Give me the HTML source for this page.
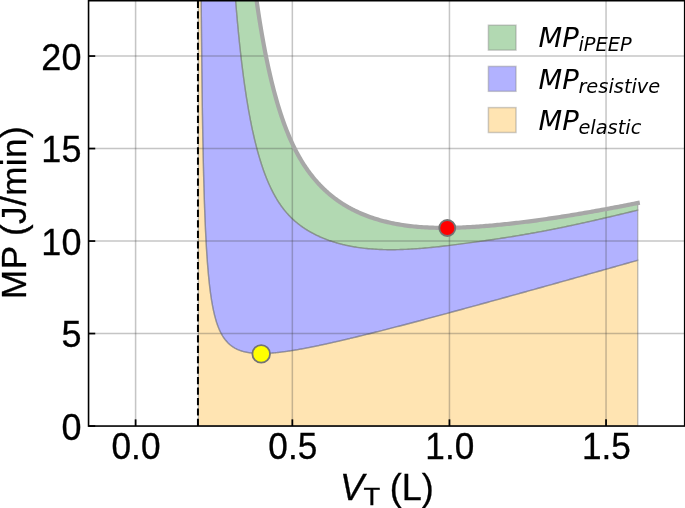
<!DOCTYPE html>
<html lang="en"><head><meta charset="utf-8"><title>Mechanical power vs tidal volume</title>
<style>
html,body{margin:0;padding:0;background:#fff;}
body{width:685px;height:508px;overflow:hidden;}
svg{display:block;}
.tk{font-family:"Liberation Sans",Arial,Helvetica,sans-serif;font-size:36px;fill:#000;stroke:#000;stroke-width:0.3px;}
.lg{font-family:"DejaVu Sans",sans-serif;font-style:italic;font-size:26px;fill:#000;}
.sb{font-size:19.4px;}
</style></head><body>
<svg width="685" height="508" viewBox="0 0 685 508">
<rect width="685" height="508" fill="#fff"/>
<defs><clipPath id="ax"><rect x="88.55" y="0.7" width="596.15" height="425.35"/></clipPath></defs>
<g clip-path="url(#ax)">
<path d="M198.37,-313.95 L198.60,-313.95 L198.82,-313.95 L199.05,-313.95 L199.27,-313.95 L199.50,-313.95 L199.73,-313.95 L199.95,-292.16 L200.18,-211.27 L200.40,-147.58 L200.63,-96.12 L200.85,-53.69 L201.08,-18.10 L201.30,12.17 L201.53,38.23 L201.75,60.91 L201.98,80.81 L202.20,98.43 L202.43,114.12 L202.65,128.19 L202.88,140.87 L203.10,152.37 L203.33,162.83 L203.55,172.40 L203.78,181.17 L204.00,189.25 L204.23,196.72 L204.45,203.63 L204.68,210.05 L204.90,216.03 L205.13,221.62 L205.35,226.84 L205.58,231.74 L205.80,236.34 L206.03,240.67 L206.25,244.76 L206.48,248.61 L206.70,252.25 L206.93,255.71 L207.16,258.98 L207.38,262.09 L207.61,265.04 L207.83,267.85 L208.06,270.53 L208.28,273.09 L208.51,275.53 L208.73,277.86 L208.96,280.10 L209.18,282.23 L209.41,284.28 L209.63,286.24 L209.86,288.13 L210.08,289.94 L210.31,291.68 L210.53,293.35 L210.76,294.97 L210.98,296.52 L211.21,298.01 L211.43,299.46 L211.66,300.85 L211.88,302.19 L212.11,303.49 L212.33,304.74 L212.56,305.95 L212.78,307.13 L213.01,308.26 L213.23,309.36 L213.46,310.42 L213.68,311.45 L213.91,312.45 L214.13,313.42 L214.36,314.36 L214.58,315.27 L214.81,316.16 L215.04,317.02 L215.26,317.86 L215.49,318.67 L215.71,319.46 L215.94,320.23 L216.16,320.97 L216.39,321.70 L216.61,322.41 L216.84,323.09 L217.06,323.76 L217.29,324.42 L217.51,325.05 L217.74,325.67 L217.96,326.28 L218.19,326.87 L218.41,327.44 L218.64,328.00 L218.86,328.55 L219.09,329.08 L219.31,329.60 L219.54,330.11 L219.76,330.61 L219.99,331.09 L220.21,331.56 L220.44,332.03 L220.66,332.48 L220.89,332.92 L221.11,333.35 L221.34,333.77 L221.56,334.18 L221.79,334.59 L222.01,334.98 L222.24,335.37 L222.47,335.74 L222.69,336.11 L222.92,336.47 L223.14,336.83 L223.37,337.17 L223.59,337.51 L223.82,337.84 L224.04,338.17 L224.27,338.49 L224.49,338.80 L224.72,339.10 L224.94,339.40 L225.17,339.69 L225.39,339.98 L225.62,340.26 L225.84,340.53 L226.07,340.80 L226.29,341.07 L226.52,341.33 L226.74,341.58 L226.97,341.83 L227.19,342.07 L227.42,342.31 L227.64,342.55 L227.87,342.78 L228.09,343.00 L228.32,343.22 L228.54,343.44 L228.77,343.65 L228.99,343.86 L229.22,344.07 L229.44,344.27 L229.67,344.46 L230.30,345.00 L230.93,345.50 L231.56,345.98 L232.19,346.43 L232.82,346.87 L233.46,347.27 L234.09,347.66 L234.72,348.03 L235.35,348.38 L235.98,348.71 L236.61,349.03 L237.24,349.32 L237.87,349.61 L238.50,349.88 L239.13,350.13 L239.77,350.37 L240.40,350.60 L241.03,350.82 L241.66,351.02 L242.29,351.22 L242.92,351.40 L243.55,351.57 L244.18,351.74 L244.81,351.89 L245.44,352.04 L246.07,352.17 L246.71,352.30 L247.34,352.42 L247.97,352.53 L248.60,352.64 L249.23,352.74 L249.86,352.83 L250.49,352.91 L251.12,352.99 L251.75,353.06 L252.38,353.13 L253.02,353.19 L253.65,353.24 L254.28,353.29 L254.91,353.34 L255.54,353.38 L256.17,353.41 L256.80,353.44 L257.43,353.47 L258.06,353.49 L258.69,353.50 L259.32,353.52 L259.96,353.52 L260.59,353.53 L261.22,353.53 L261.85,353.53 L262.48,353.52 L263.11,353.51 L263.74,353.50 L264.37,353.48 L265.00,353.46 L265.63,353.44 L266.27,353.41 L266.90,353.39 L267.53,353.36 L268.16,353.32 L268.79,353.29 L269.42,353.25 L270.05,353.20 L270.68,353.16 L271.31,353.11 L271.94,353.07 L272.57,353.01 L273.21,352.96 L273.84,352.91 L274.47,352.85 L275.10,352.79 L275.73,352.73 L276.36,352.66 L276.99,352.60 L277.62,352.53 L278.25,352.46 L278.88,352.39 L279.52,352.32 L280.15,352.24 L280.78,352.17 L281.41,352.09 L282.04,352.01 L282.67,351.93 L283.30,351.85 L283.93,351.77 L284.56,351.68 L285.19,351.59 L285.82,351.51 L286.46,351.42 L287.09,351.33 L287.72,351.24 L288.35,351.14 L288.98,351.05 L289.61,350.95 L290.24,350.86 L290.87,350.76 L291.50,350.66 L292.13,350.56 L292.77,350.46 L293.40,350.36 L294.03,350.25 L294.66,350.15 L295.29,350.04 L295.92,349.94 L296.55,349.83 L297.18,349.72 L297.81,349.61 L298.44,349.50 L299.08,349.39 L299.71,349.28 L300.34,349.16 L300.97,349.05 L301.60,348.94 L302.23,348.82 L302.86,348.71 L303.49,348.59 L304.12,348.47 L304.75,348.35 L305.38,348.23 L306.02,348.11 L306.65,347.99 L307.28,347.87 L307.91,347.75 L308.54,347.63 L309.17,347.50 L309.80,347.38 L310.43,347.25 L311.06,347.13 L311.69,347.00 L312.33,346.88 L312.96,346.75 L313.59,346.62 L314.22,346.49 L314.85,346.36 L315.48,346.23 L316.11,346.10 L316.74,345.97 L317.37,345.84 L318.00,345.71 L318.63,345.58 L319.27,345.44 L319.90,345.31 L320.53,345.18 L321.16,345.04 L321.79,344.91 L322.42,344.77 L323.05,344.64 L323.68,344.50 L324.31,344.36 L324.94,344.23 L325.58,344.09 L326.21,343.95 L326.84,343.81 L327.47,343.67 L328.10,343.53 L328.73,343.39 L329.36,343.25 L329.99,343.11 L330.62,342.97 L331.25,342.83 L331.88,342.69 L332.52,342.55 L333.15,342.40 L333.78,342.26 L334.41,342.12 L335.04,341.97 L335.67,341.83 L336.30,341.68 L336.93,341.54 L337.56,341.40 L338.19,341.25 L338.83,341.10 L339.46,340.96 L340.09,340.81 L340.72,340.67 L341.35,340.52 L341.98,340.37 L342.61,340.22 L343.24,340.08 L343.87,339.93 L344.50,339.78 L345.13,339.63 L345.77,339.48 L346.40,339.33 L347.03,339.18 L347.66,339.03 L348.29,338.88 L348.92,338.73 L349.55,338.58 L350.18,338.43 L350.81,338.28 L351.44,338.13 L352.08,337.98 L352.71,337.82 L353.34,337.67 L353.97,337.52 L354.60,337.37 L355.23,337.21 L357.13,336.75 L359.02,336.29 L360.92,335.82 L362.81,335.36 L364.71,334.89 L366.61,334.42 L368.50,333.95 L370.40,333.47 L372.29,333.00 L374.19,332.52 L376.09,332.04 L377.98,331.56 L379.88,331.08 L381.77,330.60 L383.67,330.11 L385.57,329.63 L387.46,329.14 L389.36,328.65 L391.25,328.16 L393.15,327.67 L395.05,327.18 L396.94,326.69 L398.84,326.20 L400.73,325.70 L402.63,325.21 L404.53,324.71 L406.42,324.21 L408.32,323.71 L410.22,323.22 L412.11,322.72 L414.01,322.21 L415.90,321.71 L417.80,321.21 L419.70,320.71 L421.59,320.20 L423.49,319.70 L425.38,319.19 L427.28,318.69 L429.18,318.18 L431.07,317.67 L432.97,317.17 L434.86,316.66 L436.76,316.15 L438.66,315.64 L440.55,315.13 L442.45,314.62 L444.34,314.10 L446.24,313.59 L448.14,313.08 L450.03,312.57 L451.93,312.05 L453.82,311.54 L455.72,311.02 L457.62,310.51 L459.51,309.99 L461.41,309.48 L463.30,308.96 L465.20,308.44 L467.10,307.93 L468.99,307.41 L470.89,306.89 L472.78,306.37 L474.68,305.85 L476.58,305.33 L478.47,304.81 L480.37,304.29 L482.26,303.77 L484.16,303.25 L486.06,302.73 L487.95,302.21 L489.85,301.69 L491.74,301.16 L493.64,300.64 L495.54,300.12 L497.43,299.59 L499.33,299.07 L501.23,298.55 L503.12,298.02 L505.02,297.50 L506.91,296.97 L508.81,296.45 L510.71,295.92 L512.60,295.40 L514.50,294.87 L516.39,294.35 L518.29,293.82 L520.19,293.29 L522.08,292.77 L523.98,292.24 L525.87,291.71 L527.77,291.18 L529.67,290.66 L531.56,290.13 L533.46,289.60 L535.35,289.07 L537.25,288.54 L539.15,288.01 L541.04,287.48 L542.94,286.96 L544.83,286.43 L546.73,285.90 L548.63,285.37 L550.52,284.84 L552.42,284.31 L554.31,283.78 L556.21,283.24 L558.11,282.71 L560.00,282.18 L561.90,281.65 L563.79,281.12 L565.69,280.59 L567.59,280.06 L569.48,279.53 L571.38,278.99 L573.27,278.46 L575.17,277.93 L577.07,277.40 L578.96,276.86 L580.86,276.33 L582.75,275.80 L584.65,275.27 L586.55,274.73 L588.44,274.20 L590.34,273.67 L592.24,273.13 L594.13,272.60 L596.03,272.06 L597.92,271.53 L599.82,271.00 L601.72,270.46 L603.61,269.93 L605.51,269.39 L607.40,268.86 L609.30,268.32 L611.20,267.79 L613.09,267.25 L614.99,266.72 L616.88,266.18 L618.78,265.65 L620.68,265.11 L622.57,264.58 L624.47,264.04 L626.36,263.51 L628.26,262.97 L630.16,262.43 L632.05,261.90 L633.95,261.36 L635.84,260.83 L637.74,260.29 L637.74,426.05 L635.84,426.05 L633.95,426.05 L632.05,426.05 L630.16,426.05 L628.26,426.05 L626.36,426.05 L624.47,426.05 L622.57,426.05 L620.68,426.05 L618.78,426.05 L616.88,426.05 L614.99,426.05 L613.09,426.05 L611.20,426.05 L609.30,426.05 L607.40,426.05 L605.51,426.05 L603.61,426.05 L601.72,426.05 L599.82,426.05 L597.92,426.05 L596.03,426.05 L594.13,426.05 L592.24,426.05 L590.34,426.05 L588.44,426.05 L586.55,426.05 L584.65,426.05 L582.75,426.05 L580.86,426.05 L578.96,426.05 L577.07,426.05 L575.17,426.05 L573.27,426.05 L571.38,426.05 L569.48,426.05 L567.59,426.05 L565.69,426.05 L563.79,426.05 L561.90,426.05 L560.00,426.05 L558.11,426.05 L556.21,426.05 L554.31,426.05 L552.42,426.05 L550.52,426.05 L548.63,426.05 L546.73,426.05 L544.83,426.05 L542.94,426.05 L541.04,426.05 L539.15,426.05 L537.25,426.05 L535.35,426.05 L533.46,426.05 L531.56,426.05 L529.67,426.05 L527.77,426.05 L525.87,426.05 L523.98,426.05 L522.08,426.05 L520.19,426.05 L518.29,426.05 L516.39,426.05 L514.50,426.05 L512.60,426.05 L510.71,426.05 L508.81,426.05 L506.91,426.05 L505.02,426.05 L503.12,426.05 L501.23,426.05 L499.33,426.05 L497.43,426.05 L495.54,426.05 L493.64,426.05 L491.74,426.05 L489.85,426.05 L487.95,426.05 L486.06,426.05 L484.16,426.05 L482.26,426.05 L480.37,426.05 L478.47,426.05 L476.58,426.05 L474.68,426.05 L472.78,426.05 L470.89,426.05 L468.99,426.05 L467.10,426.05 L465.20,426.05 L463.30,426.05 L461.41,426.05 L459.51,426.05 L457.62,426.05 L455.72,426.05 L453.82,426.05 L451.93,426.05 L450.03,426.05 L448.14,426.05 L446.24,426.05 L444.34,426.05 L442.45,426.05 L440.55,426.05 L438.66,426.05 L436.76,426.05 L434.86,426.05 L432.97,426.05 L431.07,426.05 L429.18,426.05 L427.28,426.05 L425.38,426.05 L423.49,426.05 L421.59,426.05 L419.70,426.05 L417.80,426.05 L415.90,426.05 L414.01,426.05 L412.11,426.05 L410.22,426.05 L408.32,426.05 L406.42,426.05 L404.53,426.05 L402.63,426.05 L400.73,426.05 L398.84,426.05 L396.94,426.05 L395.05,426.05 L393.15,426.05 L391.25,426.05 L389.36,426.05 L387.46,426.05 L385.57,426.05 L383.67,426.05 L381.77,426.05 L379.88,426.05 L377.98,426.05 L376.09,426.05 L374.19,426.05 L372.29,426.05 L370.40,426.05 L368.50,426.05 L366.61,426.05 L364.71,426.05 L362.81,426.05 L360.92,426.05 L359.02,426.05 L357.13,426.05 L355.23,426.05 L354.60,426.05 L353.97,426.05 L353.34,426.05 L352.71,426.05 L352.08,426.05 L351.44,426.05 L350.81,426.05 L350.18,426.05 L349.55,426.05 L348.92,426.05 L348.29,426.05 L347.66,426.05 L347.03,426.05 L346.40,426.05 L345.77,426.05 L345.13,426.05 L344.50,426.05 L343.87,426.05 L343.24,426.05 L342.61,426.05 L341.98,426.05 L341.35,426.05 L340.72,426.05 L340.09,426.05 L339.46,426.05 L338.83,426.05 L338.19,426.05 L337.56,426.05 L336.93,426.05 L336.30,426.05 L335.67,426.05 L335.04,426.05 L334.41,426.05 L333.78,426.05 L333.15,426.05 L332.52,426.05 L331.88,426.05 L331.25,426.05 L330.62,426.05 L329.99,426.05 L329.36,426.05 L328.73,426.05 L328.10,426.05 L327.47,426.05 L326.84,426.05 L326.21,426.05 L325.58,426.05 L324.94,426.05 L324.31,426.05 L323.68,426.05 L323.05,426.05 L322.42,426.05 L321.79,426.05 L321.16,426.05 L320.53,426.05 L319.90,426.05 L319.27,426.05 L318.63,426.05 L318.00,426.05 L317.37,426.05 L316.74,426.05 L316.11,426.05 L315.48,426.05 L314.85,426.05 L314.22,426.05 L313.59,426.05 L312.96,426.05 L312.33,426.05 L311.69,426.05 L311.06,426.05 L310.43,426.05 L309.80,426.05 L309.17,426.05 L308.54,426.05 L307.91,426.05 L307.28,426.05 L306.65,426.05 L306.02,426.05 L305.38,426.05 L304.75,426.05 L304.12,426.05 L303.49,426.05 L302.86,426.05 L302.23,426.05 L301.60,426.05 L300.97,426.05 L300.34,426.05 L299.71,426.05 L299.08,426.05 L298.44,426.05 L297.81,426.05 L297.18,426.05 L296.55,426.05 L295.92,426.05 L295.29,426.05 L294.66,426.05 L294.03,426.05 L293.40,426.05 L292.77,426.05 L292.13,426.05 L291.50,426.05 L290.87,426.05 L290.24,426.05 L289.61,426.05 L288.98,426.05 L288.35,426.05 L287.72,426.05 L287.09,426.05 L286.46,426.05 L285.82,426.05 L285.19,426.05 L284.56,426.05 L283.93,426.05 L283.30,426.05 L282.67,426.05 L282.04,426.05 L281.41,426.05 L280.78,426.05 L280.15,426.05 L279.52,426.05 L278.88,426.05 L278.25,426.05 L277.62,426.05 L276.99,426.05 L276.36,426.05 L275.73,426.05 L275.10,426.05 L274.47,426.05 L273.84,426.05 L273.21,426.05 L272.57,426.05 L271.94,426.05 L271.31,426.05 L270.68,426.05 L270.05,426.05 L269.42,426.05 L268.79,426.05 L268.16,426.05 L267.53,426.05 L266.90,426.05 L266.27,426.05 L265.63,426.05 L265.00,426.05 L264.37,426.05 L263.74,426.05 L263.11,426.05 L262.48,426.05 L261.85,426.05 L261.22,426.05 L260.59,426.05 L259.96,426.05 L259.32,426.05 L258.69,426.05 L258.06,426.05 L257.43,426.05 L256.80,426.05 L256.17,426.05 L255.54,426.05 L254.91,426.05 L254.28,426.05 L253.65,426.05 L253.02,426.05 L252.38,426.05 L251.75,426.05 L251.12,426.05 L250.49,426.05 L249.86,426.05 L249.23,426.05 L248.60,426.05 L247.97,426.05 L247.34,426.05 L246.71,426.05 L246.07,426.05 L245.44,426.05 L244.81,426.05 L244.18,426.05 L243.55,426.05 L242.92,426.05 L242.29,426.05 L241.66,426.05 L241.03,426.05 L240.40,426.05 L239.77,426.05 L239.13,426.05 L238.50,426.05 L237.87,426.05 L237.24,426.05 L236.61,426.05 L235.98,426.05 L235.35,426.05 L234.72,426.05 L234.09,426.05 L233.46,426.05 L232.82,426.05 L232.19,426.05 L231.56,426.05 L230.93,426.05 L230.30,426.05 L229.67,426.05 L229.44,426.05 L229.22,426.05 L228.99,426.05 L228.77,426.05 L228.54,426.05 L228.32,426.05 L228.09,426.05 L227.87,426.05 L227.64,426.05 L227.42,426.05 L227.19,426.05 L226.97,426.05 L226.74,426.05 L226.52,426.05 L226.29,426.05 L226.07,426.05 L225.84,426.05 L225.62,426.05 L225.39,426.05 L225.17,426.05 L224.94,426.05 L224.72,426.05 L224.49,426.05 L224.27,426.05 L224.04,426.05 L223.82,426.05 L223.59,426.05 L223.37,426.05 L223.14,426.05 L222.92,426.05 L222.69,426.05 L222.47,426.05 L222.24,426.05 L222.01,426.05 L221.79,426.05 L221.56,426.05 L221.34,426.05 L221.11,426.05 L220.89,426.05 L220.66,426.05 L220.44,426.05 L220.21,426.05 L219.99,426.05 L219.76,426.05 L219.54,426.05 L219.31,426.05 L219.09,426.05 L218.86,426.05 L218.64,426.05 L218.41,426.05 L218.19,426.05 L217.96,426.05 L217.74,426.05 L217.51,426.05 L217.29,426.05 L217.06,426.05 L216.84,426.05 L216.61,426.05 L216.39,426.05 L216.16,426.05 L215.94,426.05 L215.71,426.05 L215.49,426.05 L215.26,426.05 L215.04,426.05 L214.81,426.05 L214.58,426.05 L214.36,426.05 L214.13,426.05 L213.91,426.05 L213.68,426.05 L213.46,426.05 L213.23,426.05 L213.01,426.05 L212.78,426.05 L212.56,426.05 L212.33,426.05 L212.11,426.05 L211.88,426.05 L211.66,426.05 L211.43,426.05 L211.21,426.05 L210.98,426.05 L210.76,426.05 L210.53,426.05 L210.31,426.05 L210.08,426.05 L209.86,426.05 L209.63,426.05 L209.41,426.05 L209.18,426.05 L208.96,426.05 L208.73,426.05 L208.51,426.05 L208.28,426.05 L208.06,426.05 L207.83,426.05 L207.61,426.05 L207.38,426.05 L207.16,426.05 L206.93,426.05 L206.70,426.05 L206.48,426.05 L206.25,426.05 L206.03,426.05 L205.80,426.05 L205.58,426.05 L205.35,426.05 L205.13,426.05 L204.90,426.05 L204.68,426.05 L204.45,426.05 L204.23,426.05 L204.00,426.05 L203.78,426.05 L203.55,426.05 L203.33,426.05 L203.10,426.05 L202.88,426.05 L202.65,426.05 L202.43,426.05 L202.20,426.05 L201.98,426.05 L201.75,426.05 L201.53,426.05 L201.30,426.05 L201.08,426.05 L200.85,426.05 L200.63,426.05 L200.40,426.05 L200.18,426.05 L199.95,426.05 L199.73,426.05 L199.50,426.05 L199.27,426.05 L199.05,426.05 L198.82,426.05 L198.60,426.05 L198.37,426.05Z" fill="#ffa500" fill-opacity="0.3" stroke="#808080" stroke-opacity="0.5" stroke-width="1.4"/>
<path d="M198.37,-313.95 L198.60,-313.95 L198.82,-313.95 L199.05,-313.95 L199.27,-313.95 L199.50,-313.95 L199.73,-313.95 L199.95,-313.95 L200.18,-313.95 L200.40,-313.95 L200.63,-313.95 L200.85,-313.95 L201.08,-313.95 L201.30,-313.95 L201.53,-313.95 L201.75,-313.95 L201.98,-313.95 L202.20,-313.95 L202.43,-313.95 L202.65,-313.95 L202.88,-313.95 L203.10,-313.95 L203.33,-313.95 L203.55,-313.95 L203.78,-313.95 L204.00,-313.95 L204.23,-313.95 L204.45,-313.95 L204.68,-313.95 L204.90,-313.95 L205.13,-313.95 L205.35,-313.95 L205.58,-313.95 L205.80,-313.95 L206.03,-313.95 L206.25,-313.95 L206.48,-313.95 L206.70,-313.95 L206.93,-313.95 L207.16,-313.95 L207.38,-313.95 L207.61,-313.95 L207.83,-313.95 L208.06,-313.95 L208.28,-313.95 L208.51,-313.95 L208.73,-313.95 L208.96,-313.95 L209.18,-313.95 L209.41,-313.95 L209.63,-313.95 L209.86,-313.95 L210.08,-313.95 L210.31,-313.95 L210.53,-313.95 L210.76,-313.95 L210.98,-313.95 L211.21,-313.95 L211.43,-313.95 L211.66,-313.95 L211.88,-313.95 L212.11,-313.95 L212.33,-313.95 L212.56,-313.95 L212.78,-313.95 L213.01,-313.95 L213.23,-313.95 L213.46,-313.95 L213.68,-313.95 L213.91,-313.95 L214.13,-313.95 L214.36,-313.95 L214.58,-313.95 L214.81,-313.95 L215.04,-313.95 L215.26,-313.95 L215.49,-313.95 L215.71,-313.95 L215.94,-313.95 L216.16,-313.95 L216.39,-313.95 L216.61,-313.95 L216.84,-313.95 L217.06,-313.95 L217.29,-313.95 L217.51,-313.95 L217.74,-313.95 L217.96,-313.95 L218.19,-313.95 L218.41,-313.95 L218.64,-313.95 L218.86,-313.95 L219.09,-313.95 L219.31,-313.95 L219.54,-313.95 L219.76,-313.95 L219.99,-313.95 L220.21,-313.95 L220.44,-313.95 L220.66,-313.95 L220.89,-313.95 L221.11,-313.95 L221.34,-313.95 L221.56,-313.95 L221.79,-313.95 L222.01,-312.54 L222.24,-303.35 L222.47,-294.40 L222.69,-285.66 L222.92,-277.15 L223.14,-268.84 L223.37,-260.73 L223.59,-252.74 L223.82,-244.93 L224.04,-237.30 L224.27,-229.86 L224.49,-222.58 L224.72,-215.47 L224.94,-208.52 L225.17,-201.73 L225.39,-195.09 L225.62,-188.59 L225.84,-182.24 L226.07,-176.03 L226.29,-169.95 L226.52,-163.99 L226.74,-158.17 L226.97,-152.47 L227.19,-146.88 L227.42,-141.41 L227.64,-136.06 L227.87,-130.81 L228.09,-125.67 L228.32,-120.63 L228.54,-115.69 L228.77,-110.85 L228.99,-106.10 L229.22,-101.45 L229.44,-96.88 L229.67,-92.40 L230.30,-80.29 L230.93,-68.81 L231.56,-57.90 L232.19,-47.52 L232.82,-37.65 L233.46,-28.24 L234.09,-19.27 L234.72,-10.71 L235.35,-2.54 L235.98,5.28 L236.61,12.75 L237.24,19.91 L237.87,26.77 L238.50,33.35 L239.13,39.66 L239.77,45.72 L240.40,51.53 L241.03,57.13 L241.66,62.51 L242.29,67.69 L242.92,72.67 L243.55,77.48 L244.18,82.11 L244.81,86.57 L245.44,90.88 L246.07,95.04 L246.71,99.06 L247.34,102.94 L247.97,106.69 L248.60,110.32 L249.23,113.83 L249.86,117.22 L250.49,120.51 L251.12,123.70 L251.75,126.79 L252.38,129.78 L253.02,132.68 L253.65,135.49 L254.28,138.22 L254.91,140.87 L255.54,143.44 L256.17,145.93 L256.80,148.36 L257.43,150.71 L258.06,153.00 L258.69,155.22 L259.32,157.38 L259.96,159.49 L260.59,161.53 L261.22,163.52 L261.85,165.45 L262.48,167.34 L263.11,169.17 L263.74,170.96 L264.37,172.69 L265.00,174.39 L265.63,176.04 L266.27,177.64 L266.90,179.21 L267.53,180.73 L268.16,182.22 L268.79,183.67 L269.42,185.08 L270.05,186.46 L270.68,187.80 L271.31,189.11 L271.94,190.39 L272.57,191.63 L273.21,192.85 L273.84,194.04 L274.47,195.19 L275.10,196.32 L275.73,197.42 L276.36,198.50 L276.99,199.55 L277.62,200.57 L278.25,201.57 L278.88,202.54 L279.52,203.50 L280.15,204.43 L280.78,205.34 L281.41,206.22 L282.04,207.09 L282.67,207.94 L283.30,208.76 L283.93,209.57 L284.56,210.37 L285.19,211.14 L285.82,211.89 L286.46,212.63 L287.09,213.36 L287.72,214.06 L288.35,214.76 L288.98,215.43 L289.61,216.10 L290.24,216.75 L290.87,217.38 L291.50,218.00 L292.13,218.61 L292.77,219.21 L293.40,219.79 L294.03,220.37 L294.66,220.93 L295.29,221.48 L295.92,222.02 L296.55,222.55 L297.18,223.06 L297.81,223.57 L298.44,224.07 L299.08,224.56 L299.71,225.04 L300.34,225.51 L300.97,225.97 L301.60,226.43 L302.23,226.87 L302.86,227.31 L303.49,227.74 L304.12,228.17 L304.75,228.58 L305.38,228.99 L306.02,229.39 L306.65,229.79 L307.28,230.18 L307.91,230.56 L308.54,230.94 L309.17,231.31 L309.80,231.67 L310.43,232.03 L311.06,232.38 L311.69,232.73 L312.33,233.07 L312.96,233.41 L313.59,233.74 L314.22,234.07 L314.85,234.39 L315.48,234.71 L316.11,235.02 L316.74,235.33 L317.37,235.63 L318.00,235.93 L318.63,236.22 L319.27,236.51 L319.90,236.79 L320.53,237.07 L321.16,237.35 L321.79,237.62 L322.42,237.88 L323.05,238.15 L323.68,238.40 L324.31,238.66 L324.94,238.91 L325.58,239.15 L326.21,239.40 L326.84,239.64 L327.47,239.87 L328.10,240.10 L328.73,240.33 L329.36,240.55 L329.99,240.77 L330.62,240.99 L331.25,241.20 L331.88,241.41 L332.52,241.62 L333.15,241.82 L333.78,242.02 L334.41,242.22 L335.04,242.41 L335.67,242.60 L336.30,242.79 L336.93,242.97 L337.56,243.15 L338.19,243.33 L338.83,243.51 L339.46,243.68 L340.09,243.85 L340.72,244.01 L341.35,244.17 L341.98,244.33 L342.61,244.49 L343.24,244.64 L343.87,244.79 L344.50,244.94 L345.13,245.09 L345.77,245.23 L346.40,245.37 L347.03,245.51 L347.66,245.64 L348.29,245.77 L348.92,245.90 L349.55,246.03 L350.18,246.16 L350.81,246.28 L351.44,246.40 L352.08,246.51 L352.71,246.63 L353.34,246.74 L353.97,246.85 L354.60,246.95 L355.23,247.06 L357.13,247.36 L359.02,247.63 L360.92,247.89 L362.81,248.13 L364.71,248.35 L366.61,248.55 L368.50,248.73 L370.40,248.89 L372.29,249.04 L374.19,249.17 L376.09,249.29 L377.98,249.39 L379.88,249.48 L381.77,249.55 L383.67,249.61 L385.57,249.65 L387.46,249.69 L389.36,249.70 L391.25,249.71 L393.15,249.70 L395.05,249.69 L396.94,249.66 L398.84,249.61 L400.73,249.56 L402.63,249.50 L404.53,249.42 L406.42,249.34 L408.32,249.25 L410.22,249.14 L412.11,249.03 L414.01,248.91 L415.90,248.78 L417.80,248.64 L419.70,248.50 L421.59,248.34 L423.49,248.19 L425.38,248.02 L427.28,247.85 L429.18,247.67 L431.07,247.48 L432.97,247.29 L434.86,247.10 L436.76,246.89 L438.66,246.69 L440.55,246.48 L442.45,246.26 L444.34,246.04 L446.24,245.82 L448.14,245.59 L450.03,245.36 L451.93,245.13 L453.82,244.89 L455.72,244.66 L457.62,244.41 L459.51,244.17 L461.41,243.92 L463.30,243.67 L465.20,243.42 L467.10,243.17 L468.99,242.92 L470.89,242.66 L472.78,242.40 L474.68,242.15 L476.58,241.88 L478.47,241.62 L480.37,241.36 L482.26,241.09 L484.16,240.82 L486.06,240.55 L487.95,240.28 L489.85,240.00 L491.74,239.72 L493.64,239.44 L495.54,239.16 L497.43,238.88 L499.33,238.59 L501.23,238.30 L503.12,238.01 L505.02,237.71 L506.91,237.42 L508.81,237.12 L510.71,236.82 L512.60,236.51 L514.50,236.20 L516.39,235.89 L518.29,235.58 L520.19,235.26 L522.08,234.94 L523.98,234.62 L525.87,234.30 L527.77,233.97 L529.67,233.64 L531.56,233.30 L533.46,232.96 L535.35,232.62 L537.25,232.28 L539.15,231.93 L541.04,231.58 L542.94,231.22 L544.83,230.86 L546.73,230.50 L548.63,230.13 L550.52,229.76 L552.42,229.39 L554.31,229.01 L556.21,228.63 L558.11,228.25 L560.00,227.87 L561.90,227.48 L563.79,227.08 L565.69,226.69 L567.59,226.29 L569.48,225.89 L571.38,225.49 L573.27,225.08 L575.17,224.68 L577.07,224.27 L578.96,223.85 L580.86,223.44 L582.75,223.02 L584.65,222.60 L586.55,222.18 L588.44,221.75 L590.34,221.33 L592.24,220.90 L594.13,220.47 L596.03,220.04 L597.92,219.60 L599.82,219.17 L601.72,218.73 L603.61,218.29 L605.51,217.85 L607.40,217.41 L609.30,216.96 L611.20,216.52 L613.09,216.07 L614.99,215.62 L616.88,215.17 L618.78,214.72 L620.68,214.27 L622.57,213.82 L624.47,213.36 L626.36,212.91 L628.26,212.45 L630.16,211.99 L632.05,211.53 L633.95,211.08 L635.84,210.62 L637.74,210.15 L637.74,260.29 L635.84,260.83 L633.95,261.36 L632.05,261.90 L630.16,262.43 L628.26,262.97 L626.36,263.51 L624.47,264.04 L622.57,264.58 L620.68,265.11 L618.78,265.65 L616.88,266.18 L614.99,266.72 L613.09,267.25 L611.20,267.79 L609.30,268.32 L607.40,268.86 L605.51,269.39 L603.61,269.93 L601.72,270.46 L599.82,271.00 L597.92,271.53 L596.03,272.06 L594.13,272.60 L592.24,273.13 L590.34,273.67 L588.44,274.20 L586.55,274.73 L584.65,275.27 L582.75,275.80 L580.86,276.33 L578.96,276.86 L577.07,277.40 L575.17,277.93 L573.27,278.46 L571.38,278.99 L569.48,279.53 L567.59,280.06 L565.69,280.59 L563.79,281.12 L561.90,281.65 L560.00,282.18 L558.11,282.71 L556.21,283.24 L554.31,283.78 L552.42,284.31 L550.52,284.84 L548.63,285.37 L546.73,285.90 L544.83,286.43 L542.94,286.96 L541.04,287.48 L539.15,288.01 L537.25,288.54 L535.35,289.07 L533.46,289.60 L531.56,290.13 L529.67,290.66 L527.77,291.18 L525.87,291.71 L523.98,292.24 L522.08,292.77 L520.19,293.29 L518.29,293.82 L516.39,294.35 L514.50,294.87 L512.60,295.40 L510.71,295.92 L508.81,296.45 L506.91,296.97 L505.02,297.50 L503.12,298.02 L501.23,298.55 L499.33,299.07 L497.43,299.59 L495.54,300.12 L493.64,300.64 L491.74,301.16 L489.85,301.69 L487.95,302.21 L486.06,302.73 L484.16,303.25 L482.26,303.77 L480.37,304.29 L478.47,304.81 L476.58,305.33 L474.68,305.85 L472.78,306.37 L470.89,306.89 L468.99,307.41 L467.10,307.93 L465.20,308.44 L463.30,308.96 L461.41,309.48 L459.51,309.99 L457.62,310.51 L455.72,311.02 L453.82,311.54 L451.93,312.05 L450.03,312.57 L448.14,313.08 L446.24,313.59 L444.34,314.10 L442.45,314.62 L440.55,315.13 L438.66,315.64 L436.76,316.15 L434.86,316.66 L432.97,317.17 L431.07,317.67 L429.18,318.18 L427.28,318.69 L425.38,319.19 L423.49,319.70 L421.59,320.20 L419.70,320.71 L417.80,321.21 L415.90,321.71 L414.01,322.21 L412.11,322.72 L410.22,323.22 L408.32,323.71 L406.42,324.21 L404.53,324.71 L402.63,325.21 L400.73,325.70 L398.84,326.20 L396.94,326.69 L395.05,327.18 L393.15,327.67 L391.25,328.16 L389.36,328.65 L387.46,329.14 L385.57,329.63 L383.67,330.11 L381.77,330.60 L379.88,331.08 L377.98,331.56 L376.09,332.04 L374.19,332.52 L372.29,333.00 L370.40,333.47 L368.50,333.95 L366.61,334.42 L364.71,334.89 L362.81,335.36 L360.92,335.82 L359.02,336.29 L357.13,336.75 L355.23,337.21 L354.60,337.37 L353.97,337.52 L353.34,337.67 L352.71,337.82 L352.08,337.98 L351.44,338.13 L350.81,338.28 L350.18,338.43 L349.55,338.58 L348.92,338.73 L348.29,338.88 L347.66,339.03 L347.03,339.18 L346.40,339.33 L345.77,339.48 L345.13,339.63 L344.50,339.78 L343.87,339.93 L343.24,340.08 L342.61,340.22 L341.98,340.37 L341.35,340.52 L340.72,340.67 L340.09,340.81 L339.46,340.96 L338.83,341.10 L338.19,341.25 L337.56,341.40 L336.93,341.54 L336.30,341.68 L335.67,341.83 L335.04,341.97 L334.41,342.12 L333.78,342.26 L333.15,342.40 L332.52,342.55 L331.88,342.69 L331.25,342.83 L330.62,342.97 L329.99,343.11 L329.36,343.25 L328.73,343.39 L328.10,343.53 L327.47,343.67 L326.84,343.81 L326.21,343.95 L325.58,344.09 L324.94,344.23 L324.31,344.36 L323.68,344.50 L323.05,344.64 L322.42,344.77 L321.79,344.91 L321.16,345.04 L320.53,345.18 L319.90,345.31 L319.27,345.44 L318.63,345.58 L318.00,345.71 L317.37,345.84 L316.74,345.97 L316.11,346.10 L315.48,346.23 L314.85,346.36 L314.22,346.49 L313.59,346.62 L312.96,346.75 L312.33,346.88 L311.69,347.00 L311.06,347.13 L310.43,347.25 L309.80,347.38 L309.17,347.50 L308.54,347.63 L307.91,347.75 L307.28,347.87 L306.65,347.99 L306.02,348.11 L305.38,348.23 L304.75,348.35 L304.12,348.47 L303.49,348.59 L302.86,348.71 L302.23,348.82 L301.60,348.94 L300.97,349.05 L300.34,349.16 L299.71,349.28 L299.08,349.39 L298.44,349.50 L297.81,349.61 L297.18,349.72 L296.55,349.83 L295.92,349.94 L295.29,350.04 L294.66,350.15 L294.03,350.25 L293.40,350.36 L292.77,350.46 L292.13,350.56 L291.50,350.66 L290.87,350.76 L290.24,350.86 L289.61,350.95 L288.98,351.05 L288.35,351.14 L287.72,351.24 L287.09,351.33 L286.46,351.42 L285.82,351.51 L285.19,351.59 L284.56,351.68 L283.93,351.77 L283.30,351.85 L282.67,351.93 L282.04,352.01 L281.41,352.09 L280.78,352.17 L280.15,352.24 L279.52,352.32 L278.88,352.39 L278.25,352.46 L277.62,352.53 L276.99,352.60 L276.36,352.66 L275.73,352.73 L275.10,352.79 L274.47,352.85 L273.84,352.91 L273.21,352.96 L272.57,353.01 L271.94,353.07 L271.31,353.11 L270.68,353.16 L270.05,353.20 L269.42,353.25 L268.79,353.29 L268.16,353.32 L267.53,353.36 L266.90,353.39 L266.27,353.41 L265.63,353.44 L265.00,353.46 L264.37,353.48 L263.74,353.50 L263.11,353.51 L262.48,353.52 L261.85,353.53 L261.22,353.53 L260.59,353.53 L259.96,353.52 L259.32,353.52 L258.69,353.50 L258.06,353.49 L257.43,353.47 L256.80,353.44 L256.17,353.41 L255.54,353.38 L254.91,353.34 L254.28,353.29 L253.65,353.24 L253.02,353.19 L252.38,353.13 L251.75,353.06 L251.12,352.99 L250.49,352.91 L249.86,352.83 L249.23,352.74 L248.60,352.64 L247.97,352.53 L247.34,352.42 L246.71,352.30 L246.07,352.17 L245.44,352.04 L244.81,351.89 L244.18,351.74 L243.55,351.57 L242.92,351.40 L242.29,351.22 L241.66,351.02 L241.03,350.82 L240.40,350.60 L239.77,350.37 L239.13,350.13 L238.50,349.88 L237.87,349.61 L237.24,349.32 L236.61,349.03 L235.98,348.71 L235.35,348.38 L234.72,348.03 L234.09,347.66 L233.46,347.27 L232.82,346.87 L232.19,346.43 L231.56,345.98 L230.93,345.50 L230.30,345.00 L229.67,344.46 L229.44,344.27 L229.22,344.07 L228.99,343.86 L228.77,343.65 L228.54,343.44 L228.32,343.22 L228.09,343.00 L227.87,342.78 L227.64,342.55 L227.42,342.31 L227.19,342.07 L226.97,341.83 L226.74,341.58 L226.52,341.33 L226.29,341.07 L226.07,340.80 L225.84,340.53 L225.62,340.26 L225.39,339.98 L225.17,339.69 L224.94,339.40 L224.72,339.10 L224.49,338.80 L224.27,338.49 L224.04,338.17 L223.82,337.84 L223.59,337.51 L223.37,337.17 L223.14,336.83 L222.92,336.47 L222.69,336.11 L222.47,335.74 L222.24,335.37 L222.01,334.98 L221.79,334.59 L221.56,334.18 L221.34,333.77 L221.11,333.35 L220.89,332.92 L220.66,332.48 L220.44,332.03 L220.21,331.56 L219.99,331.09 L219.76,330.61 L219.54,330.11 L219.31,329.60 L219.09,329.08 L218.86,328.55 L218.64,328.00 L218.41,327.44 L218.19,326.87 L217.96,326.28 L217.74,325.67 L217.51,325.05 L217.29,324.42 L217.06,323.76 L216.84,323.09 L216.61,322.41 L216.39,321.70 L216.16,320.97 L215.94,320.23 L215.71,319.46 L215.49,318.67 L215.26,317.86 L215.04,317.02 L214.81,316.16 L214.58,315.27 L214.36,314.36 L214.13,313.42 L213.91,312.45 L213.68,311.45 L213.46,310.42 L213.23,309.36 L213.01,308.26 L212.78,307.13 L212.56,305.95 L212.33,304.74 L212.11,303.49 L211.88,302.19 L211.66,300.85 L211.43,299.46 L211.21,298.01 L210.98,296.52 L210.76,294.97 L210.53,293.35 L210.31,291.68 L210.08,289.94 L209.86,288.13 L209.63,286.24 L209.41,284.28 L209.18,282.23 L208.96,280.10 L208.73,277.86 L208.51,275.53 L208.28,273.09 L208.06,270.53 L207.83,267.85 L207.61,265.04 L207.38,262.09 L207.16,258.98 L206.93,255.71 L206.70,252.25 L206.48,248.61 L206.25,244.76 L206.03,240.67 L205.80,236.34 L205.58,231.74 L205.35,226.84 L205.13,221.62 L204.90,216.03 L204.68,210.05 L204.45,203.63 L204.23,196.72 L204.00,189.25 L203.78,181.17 L203.55,172.40 L203.33,162.83 L203.10,152.37 L202.88,140.87 L202.65,128.19 L202.43,114.12 L202.20,98.43 L201.98,80.81 L201.75,60.91 L201.53,38.23 L201.30,12.17 L201.08,-18.10 L200.85,-53.69 L200.63,-96.12 L200.40,-147.58 L200.18,-211.27 L199.95,-292.16 L199.73,-313.95 L199.50,-313.95 L199.27,-313.95 L199.05,-313.95 L198.82,-313.95 L198.60,-313.95 L198.37,-313.95Z" fill="#0000ff" fill-opacity="0.3" stroke="#808080" stroke-opacity="0.5" stroke-width="1.4"/>
<path d="M198.37,-313.95 L198.60,-313.95 L198.82,-313.95 L199.05,-313.95 L199.27,-313.95 L199.50,-313.95 L199.73,-313.95 L199.95,-313.95 L200.18,-313.95 L200.40,-313.95 L200.63,-313.95 L200.85,-313.95 L201.08,-313.95 L201.30,-313.95 L201.53,-313.95 L201.75,-313.95 L201.98,-313.95 L202.20,-313.95 L202.43,-313.95 L202.65,-313.95 L202.88,-313.95 L203.10,-313.95 L203.33,-313.95 L203.55,-313.95 L203.78,-313.95 L204.00,-313.95 L204.23,-313.95 L204.45,-313.95 L204.68,-313.95 L204.90,-313.95 L205.13,-313.95 L205.35,-313.95 L205.58,-313.95 L205.80,-313.95 L206.03,-313.95 L206.25,-313.95 L206.48,-313.95 L206.70,-313.95 L206.93,-313.95 L207.16,-313.95 L207.38,-313.95 L207.61,-313.95 L207.83,-313.95 L208.06,-313.95 L208.28,-313.95 L208.51,-313.95 L208.73,-313.95 L208.96,-313.95 L209.18,-313.95 L209.41,-313.95 L209.63,-313.95 L209.86,-313.95 L210.08,-313.95 L210.31,-313.95 L210.53,-313.95 L210.76,-313.95 L210.98,-313.95 L211.21,-313.95 L211.43,-313.95 L211.66,-313.95 L211.88,-313.95 L212.11,-313.95 L212.33,-313.95 L212.56,-313.95 L212.78,-313.95 L213.01,-313.95 L213.23,-313.95 L213.46,-313.95 L213.68,-313.95 L213.91,-313.95 L214.13,-313.95 L214.36,-313.95 L214.58,-313.95 L214.81,-313.95 L215.04,-313.95 L215.26,-313.95 L215.49,-313.95 L215.71,-313.95 L215.94,-313.95 L216.16,-313.95 L216.39,-313.95 L216.61,-313.95 L216.84,-313.95 L217.06,-313.95 L217.29,-313.95 L217.51,-313.95 L217.74,-313.95 L217.96,-313.95 L218.19,-313.95 L218.41,-313.95 L218.64,-313.95 L218.86,-313.95 L219.09,-313.95 L219.31,-313.95 L219.54,-313.95 L219.76,-313.95 L219.99,-313.95 L220.21,-313.95 L220.44,-313.95 L220.66,-313.95 L220.89,-313.95 L221.11,-313.95 L221.34,-313.95 L221.56,-313.95 L221.79,-313.95 L222.01,-313.95 L222.24,-313.95 L222.47,-313.95 L222.69,-313.95 L222.92,-313.95 L223.14,-313.95 L223.37,-313.95 L223.59,-313.95 L223.82,-313.95 L224.04,-313.95 L224.27,-313.95 L224.49,-313.95 L224.72,-313.95 L224.94,-313.95 L225.17,-313.95 L225.39,-313.95 L225.62,-313.95 L225.84,-313.95 L226.07,-313.95 L226.29,-313.95 L226.52,-313.95 L226.74,-313.95 L226.97,-313.95 L227.19,-313.95 L227.42,-313.95 L227.64,-313.95 L227.87,-313.95 L228.09,-313.95 L228.32,-313.95 L228.54,-313.95 L228.77,-313.95 L228.99,-313.95 L229.22,-313.95 L229.44,-313.95 L229.67,-313.95 L230.30,-313.95 L230.93,-313.95 L231.56,-313.95 L232.19,-313.95 L232.82,-313.95 L233.46,-299.33 L234.09,-284.87 L234.72,-271.00 L235.35,-257.69 L235.98,-244.92 L236.61,-232.65 L237.24,-220.85 L237.87,-209.50 L238.50,-198.57 L239.13,-188.05 L239.77,-177.90 L240.40,-168.11 L241.03,-158.67 L241.66,-149.55 L242.29,-140.74 L242.92,-132.23 L243.55,-123.99 L244.18,-116.02 L244.81,-108.31 L245.44,-100.84 L246.07,-93.60 L246.71,-86.58 L247.34,-79.78 L247.97,-73.18 L248.60,-66.77 L249.23,-60.55 L249.86,-54.51 L250.49,-48.64 L251.12,-42.93 L251.75,-37.39 L252.38,-31.99 L253.02,-26.74 L253.65,-21.63 L254.28,-16.66 L254.91,-11.81 L255.54,-7.10 L256.17,-2.50 L256.80,1.98 L257.43,6.35 L258.06,10.61 L258.69,14.77 L259.32,18.82 L259.96,22.78 L260.59,26.64 L261.22,30.41 L261.85,34.09 L262.48,37.69 L263.11,41.20 L263.74,44.64 L264.37,47.99 L265.00,51.28 L265.63,54.48 L266.27,57.62 L266.90,60.69 L267.53,63.69 L268.16,66.63 L268.79,69.50 L269.42,72.32 L270.05,75.07 L270.68,77.77 L271.31,80.41 L271.94,82.99 L272.57,85.52 L273.21,88.00 L273.84,90.43 L274.47,92.80 L275.10,95.13 L275.73,97.41 L276.36,99.65 L276.99,101.84 L277.62,103.98 L278.25,106.08 L278.88,108.14 L279.52,110.16 L280.15,112.14 L280.78,114.08 L281.41,115.98 L282.04,117.84 L282.67,119.67 L283.30,121.46 L283.93,123.22 L284.56,124.94 L285.19,126.63 L285.82,128.29 L286.46,129.92 L287.09,131.51 L287.72,133.07 L288.35,134.61 L288.98,136.12 L289.61,137.59 L290.24,139.04 L290.87,140.46 L291.50,141.86 L292.13,143.23 L292.77,144.57 L293.40,145.89 L294.03,147.19 L294.66,148.46 L295.29,149.71 L295.92,150.93 L296.55,152.13 L297.18,153.32 L297.81,154.48 L298.44,155.62 L299.08,156.74 L299.71,157.84 L300.34,158.92 L300.97,159.98 L301.60,161.03 L302.23,162.06 L302.86,163.07 L303.49,164.06 L304.12,165.04 L304.75,166.00 L305.38,166.95 L306.02,167.88 L306.65,168.80 L307.28,169.70 L307.91,170.59 L308.54,171.46 L309.17,172.32 L309.80,173.17 L310.43,174.00 L311.06,174.82 L311.69,175.63 L312.33,176.43 L312.96,177.22 L313.59,177.99 L314.22,178.75 L314.85,179.50 L315.48,180.24 L316.11,180.97 L316.74,181.69 L317.37,182.40 L318.00,183.09 L318.63,183.78 L319.27,184.46 L319.90,185.12 L320.53,185.78 L321.16,186.43 L321.79,187.07 L322.42,187.70 L323.05,188.32 L323.68,188.93 L324.31,189.54 L324.94,190.13 L325.58,190.72 L326.21,191.29 L326.84,191.87 L327.47,192.43 L328.10,192.98 L328.73,193.53 L329.36,194.07 L329.99,194.60 L330.62,195.12 L331.25,195.64 L331.88,196.15 L332.52,196.65 L333.15,197.15 L333.78,197.64 L334.41,198.12 L335.04,198.60 L335.67,199.06 L336.30,199.53 L336.93,199.98 L337.56,200.43 L338.19,200.88 L338.83,201.32 L339.46,201.75 L340.09,202.18 L340.72,202.60 L341.35,203.01 L341.98,203.42 L342.61,203.83 L343.24,204.22 L343.87,204.62 L344.50,205.01 L345.13,205.39 L345.77,205.77 L346.40,206.14 L347.03,206.51 L347.66,206.87 L348.29,207.23 L348.92,207.58 L349.55,207.93 L350.18,208.27 L350.81,208.61 L351.44,208.94 L352.08,209.27 L352.71,209.60 L353.34,209.92 L353.97,210.24 L354.60,210.55 L355.23,210.86 L357.13,211.76 L359.02,212.63 L360.92,213.46 L362.81,214.26 L364.71,215.03 L366.61,215.77 L368.50,216.47 L370.40,217.16 L372.29,217.81 L374.19,218.43 L376.09,219.03 L377.98,219.61 L379.88,220.16 L381.77,220.68 L383.67,221.18 L385.57,221.66 L387.46,222.12 L389.36,222.56 L391.25,222.97 L393.15,223.37 L395.05,223.74 L396.94,224.09 L398.84,224.43 L400.73,224.74 L402.63,225.04 L404.53,225.32 L406.42,225.58 L408.32,225.83 L410.22,226.06 L412.11,226.27 L414.01,226.47 L415.90,226.65 L417.80,226.82 L419.70,226.97 L421.59,227.11 L423.49,227.24 L425.38,227.35 L427.28,227.45 L429.18,227.54 L431.07,227.62 L432.97,227.68 L434.86,227.73 L436.76,227.78 L438.66,227.81 L440.55,227.83 L442.45,227.84 L444.34,227.85 L446.24,227.84 L448.14,227.82 L450.03,227.80 L451.93,227.76 L453.82,227.72 L455.72,227.67 L457.62,227.61 L459.51,227.55 L461.41,227.48 L463.30,227.40 L465.20,227.31 L467.10,227.22 L468.99,227.12 L470.89,227.01 L472.78,226.90 L474.68,226.78 L476.58,226.66 L478.47,226.53 L480.37,226.40 L482.26,226.26 L484.16,226.11 L486.06,225.96 L487.95,225.80 L489.85,225.64 L491.74,225.48 L493.64,225.31 L495.54,225.14 L497.43,224.96 L499.33,224.77 L501.23,224.59 L503.12,224.39 L505.02,224.20 L506.91,224.00 L508.81,223.80 L510.71,223.59 L512.60,223.38 L514.50,223.16 L516.39,222.94 L518.29,222.72 L520.19,222.49 L522.08,222.26 L523.98,222.03 L525.87,221.79 L527.77,221.55 L529.67,221.31 L531.56,221.06 L533.46,220.81 L535.35,220.56 L537.25,220.30 L539.15,220.04 L541.04,219.78 L542.94,219.52 L544.83,219.25 L546.73,218.97 L548.63,218.70 L550.52,218.42 L552.42,218.14 L554.31,217.86 L556.21,217.57 L558.11,217.28 L560.00,216.99 L561.90,216.69 L563.79,216.39 L565.69,216.09 L567.59,215.79 L569.48,215.48 L571.38,215.17 L573.27,214.86 L575.17,214.55 L577.07,214.23 L578.96,213.91 L580.86,213.59 L582.75,213.27 L584.65,212.94 L586.55,212.61 L588.44,212.28 L590.34,211.95 L592.24,211.61 L594.13,211.28 L596.03,210.94 L597.92,210.60 L599.82,210.25 L601.72,209.91 L603.61,209.56 L605.51,209.21 L607.40,208.86 L609.30,208.50 L611.20,208.15 L613.09,207.79 L614.99,207.43 L616.88,207.07 L618.78,206.71 L620.68,206.34 L622.57,205.98 L624.47,205.61 L626.36,205.24 L628.26,204.87 L630.16,204.50 L632.05,204.12 L633.95,203.75 L635.84,203.37 L637.74,202.99 L637.74,210.15 L635.84,210.62 L633.95,211.08 L632.05,211.53 L630.16,211.99 L628.26,212.45 L626.36,212.91 L624.47,213.36 L622.57,213.82 L620.68,214.27 L618.78,214.72 L616.88,215.17 L614.99,215.62 L613.09,216.07 L611.20,216.52 L609.30,216.96 L607.40,217.41 L605.51,217.85 L603.61,218.29 L601.72,218.73 L599.82,219.17 L597.92,219.60 L596.03,220.04 L594.13,220.47 L592.24,220.90 L590.34,221.33 L588.44,221.75 L586.55,222.18 L584.65,222.60 L582.75,223.02 L580.86,223.44 L578.96,223.85 L577.07,224.27 L575.17,224.68 L573.27,225.08 L571.38,225.49 L569.48,225.89 L567.59,226.29 L565.69,226.69 L563.79,227.08 L561.90,227.48 L560.00,227.87 L558.11,228.25 L556.21,228.63 L554.31,229.01 L552.42,229.39 L550.52,229.76 L548.63,230.13 L546.73,230.50 L544.83,230.86 L542.94,231.22 L541.04,231.58 L539.15,231.93 L537.25,232.28 L535.35,232.62 L533.46,232.96 L531.56,233.30 L529.67,233.64 L527.77,233.97 L525.87,234.30 L523.98,234.62 L522.08,234.94 L520.19,235.26 L518.29,235.58 L516.39,235.89 L514.50,236.20 L512.60,236.51 L510.71,236.82 L508.81,237.12 L506.91,237.42 L505.02,237.71 L503.12,238.01 L501.23,238.30 L499.33,238.59 L497.43,238.88 L495.54,239.16 L493.64,239.44 L491.74,239.72 L489.85,240.00 L487.95,240.28 L486.06,240.55 L484.16,240.82 L482.26,241.09 L480.37,241.36 L478.47,241.62 L476.58,241.88 L474.68,242.15 L472.78,242.40 L470.89,242.66 L468.99,242.92 L467.10,243.17 L465.20,243.42 L463.30,243.67 L461.41,243.92 L459.51,244.17 L457.62,244.41 L455.72,244.66 L453.82,244.89 L451.93,245.13 L450.03,245.36 L448.14,245.59 L446.24,245.82 L444.34,246.04 L442.45,246.26 L440.55,246.48 L438.66,246.69 L436.76,246.89 L434.86,247.10 L432.97,247.29 L431.07,247.48 L429.18,247.67 L427.28,247.85 L425.38,248.02 L423.49,248.19 L421.59,248.34 L419.70,248.50 L417.80,248.64 L415.90,248.78 L414.01,248.91 L412.11,249.03 L410.22,249.14 L408.32,249.25 L406.42,249.34 L404.53,249.42 L402.63,249.50 L400.73,249.56 L398.84,249.61 L396.94,249.66 L395.05,249.69 L393.15,249.70 L391.25,249.71 L389.36,249.70 L387.46,249.69 L385.57,249.65 L383.67,249.61 L381.77,249.55 L379.88,249.48 L377.98,249.39 L376.09,249.29 L374.19,249.17 L372.29,249.04 L370.40,248.89 L368.50,248.73 L366.61,248.55 L364.71,248.35 L362.81,248.13 L360.92,247.89 L359.02,247.63 L357.13,247.36 L355.23,247.06 L354.60,246.95 L353.97,246.85 L353.34,246.74 L352.71,246.63 L352.08,246.51 L351.44,246.40 L350.81,246.28 L350.18,246.16 L349.55,246.03 L348.92,245.90 L348.29,245.77 L347.66,245.64 L347.03,245.51 L346.40,245.37 L345.77,245.23 L345.13,245.09 L344.50,244.94 L343.87,244.79 L343.24,244.64 L342.61,244.49 L341.98,244.33 L341.35,244.17 L340.72,244.01 L340.09,243.85 L339.46,243.68 L338.83,243.51 L338.19,243.33 L337.56,243.15 L336.93,242.97 L336.30,242.79 L335.67,242.60 L335.04,242.41 L334.41,242.22 L333.78,242.02 L333.15,241.82 L332.52,241.62 L331.88,241.41 L331.25,241.20 L330.62,240.99 L329.99,240.77 L329.36,240.55 L328.73,240.33 L328.10,240.10 L327.47,239.87 L326.84,239.64 L326.21,239.40 L325.58,239.15 L324.94,238.91 L324.31,238.66 L323.68,238.40 L323.05,238.15 L322.42,237.88 L321.79,237.62 L321.16,237.35 L320.53,237.07 L319.90,236.79 L319.27,236.51 L318.63,236.22 L318.00,235.93 L317.37,235.63 L316.74,235.33 L316.11,235.02 L315.48,234.71 L314.85,234.39 L314.22,234.07 L313.59,233.74 L312.96,233.41 L312.33,233.07 L311.69,232.73 L311.06,232.38 L310.43,232.03 L309.80,231.67 L309.17,231.31 L308.54,230.94 L307.91,230.56 L307.28,230.18 L306.65,229.79 L306.02,229.39 L305.38,228.99 L304.75,228.58 L304.12,228.17 L303.49,227.74 L302.86,227.31 L302.23,226.87 L301.60,226.43 L300.97,225.97 L300.34,225.51 L299.71,225.04 L299.08,224.56 L298.44,224.07 L297.81,223.57 L297.18,223.06 L296.55,222.55 L295.92,222.02 L295.29,221.48 L294.66,220.93 L294.03,220.37 L293.40,219.79 L292.77,219.21 L292.13,218.61 L291.50,218.00 L290.87,217.38 L290.24,216.75 L289.61,216.10 L288.98,215.43 L288.35,214.76 L287.72,214.06 L287.09,213.36 L286.46,212.63 L285.82,211.89 L285.19,211.14 L284.56,210.37 L283.93,209.57 L283.30,208.76 L282.67,207.94 L282.04,207.09 L281.41,206.22 L280.78,205.34 L280.15,204.43 L279.52,203.50 L278.88,202.54 L278.25,201.57 L277.62,200.57 L276.99,199.55 L276.36,198.50 L275.73,197.42 L275.10,196.32 L274.47,195.19 L273.84,194.04 L273.21,192.85 L272.57,191.63 L271.94,190.39 L271.31,189.11 L270.68,187.80 L270.05,186.46 L269.42,185.08 L268.79,183.67 L268.16,182.22 L267.53,180.73 L266.90,179.21 L266.27,177.64 L265.63,176.04 L265.00,174.39 L264.37,172.69 L263.74,170.96 L263.11,169.17 L262.48,167.34 L261.85,165.45 L261.22,163.52 L260.59,161.53 L259.96,159.49 L259.32,157.38 L258.69,155.22 L258.06,153.00 L257.43,150.71 L256.80,148.36 L256.17,145.93 L255.54,143.44 L254.91,140.87 L254.28,138.22 L253.65,135.49 L253.02,132.68 L252.38,129.78 L251.75,126.79 L251.12,123.70 L250.49,120.51 L249.86,117.22 L249.23,113.83 L248.60,110.32 L247.97,106.69 L247.34,102.94 L246.71,99.06 L246.07,95.04 L245.44,90.88 L244.81,86.57 L244.18,82.11 L243.55,77.48 L242.92,72.67 L242.29,67.69 L241.66,62.51 L241.03,57.13 L240.40,51.53 L239.77,45.72 L239.13,39.66 L238.50,33.35 L237.87,26.77 L237.24,19.91 L236.61,12.75 L235.98,5.28 L235.35,-2.54 L234.72,-10.71 L234.09,-19.27 L233.46,-28.24 L232.82,-37.65 L232.19,-47.52 L231.56,-57.90 L230.93,-68.81 L230.30,-80.29 L229.67,-92.40 L229.44,-96.88 L229.22,-101.45 L228.99,-106.10 L228.77,-110.85 L228.54,-115.69 L228.32,-120.63 L228.09,-125.67 L227.87,-130.81 L227.64,-136.06 L227.42,-141.41 L227.19,-146.88 L226.97,-152.47 L226.74,-158.17 L226.52,-163.99 L226.29,-169.95 L226.07,-176.03 L225.84,-182.24 L225.62,-188.59 L225.39,-195.09 L225.17,-201.73 L224.94,-208.52 L224.72,-215.47 L224.49,-222.58 L224.27,-229.86 L224.04,-237.30 L223.82,-244.93 L223.59,-252.74 L223.37,-260.73 L223.14,-268.84 L222.92,-277.15 L222.69,-285.66 L222.47,-294.40 L222.24,-303.35 L222.01,-312.54 L221.79,-313.95 L221.56,-313.95 L221.34,-313.95 L221.11,-313.95 L220.89,-313.95 L220.66,-313.95 L220.44,-313.95 L220.21,-313.95 L219.99,-313.95 L219.76,-313.95 L219.54,-313.95 L219.31,-313.95 L219.09,-313.95 L218.86,-313.95 L218.64,-313.95 L218.41,-313.95 L218.19,-313.95 L217.96,-313.95 L217.74,-313.95 L217.51,-313.95 L217.29,-313.95 L217.06,-313.95 L216.84,-313.95 L216.61,-313.95 L216.39,-313.95 L216.16,-313.95 L215.94,-313.95 L215.71,-313.95 L215.49,-313.95 L215.26,-313.95 L215.04,-313.95 L214.81,-313.95 L214.58,-313.95 L214.36,-313.95 L214.13,-313.95 L213.91,-313.95 L213.68,-313.95 L213.46,-313.95 L213.23,-313.95 L213.01,-313.95 L212.78,-313.95 L212.56,-313.95 L212.33,-313.95 L212.11,-313.95 L211.88,-313.95 L211.66,-313.95 L211.43,-313.95 L211.21,-313.95 L210.98,-313.95 L210.76,-313.95 L210.53,-313.95 L210.31,-313.95 L210.08,-313.95 L209.86,-313.95 L209.63,-313.95 L209.41,-313.95 L209.18,-313.95 L208.96,-313.95 L208.73,-313.95 L208.51,-313.95 L208.28,-313.95 L208.06,-313.95 L207.83,-313.95 L207.61,-313.95 L207.38,-313.95 L207.16,-313.95 L206.93,-313.95 L206.70,-313.95 L206.48,-313.95 L206.25,-313.95 L206.03,-313.95 L205.80,-313.95 L205.58,-313.95 L205.35,-313.95 L205.13,-313.95 L204.90,-313.95 L204.68,-313.95 L204.45,-313.95 L204.23,-313.95 L204.00,-313.95 L203.78,-313.95 L203.55,-313.95 L203.33,-313.95 L203.10,-313.95 L202.88,-313.95 L202.65,-313.95 L202.43,-313.95 L202.20,-313.95 L201.98,-313.95 L201.75,-313.95 L201.53,-313.95 L201.30,-313.95 L201.08,-313.95 L200.85,-313.95 L200.63,-313.95 L200.40,-313.95 L200.18,-313.95 L199.95,-313.95 L199.73,-313.95 L199.50,-313.95 L199.27,-313.95 L199.05,-313.95 L198.82,-313.95 L198.60,-313.95 L198.37,-313.95Z" fill="#008000" fill-opacity="0.3" stroke="#808080" stroke-opacity="0.5" stroke-width="1.4"/>
<line x1="135.60" x2="135.60" y1="0.7" y2="426.05" stroke="#404040" stroke-opacity="0.3" stroke-width="1.5"/>
<line x1="292.35" x2="292.35" y1="0.7" y2="426.05" stroke="#404040" stroke-opacity="0.3" stroke-width="1.5"/>
<line x1="449.45" x2="449.45" y1="0.7" y2="426.05" stroke="#404040" stroke-opacity="0.3" stroke-width="1.5"/>
<line x1="606.05" x2="606.05" y1="0.7" y2="426.05" stroke="#404040" stroke-opacity="0.3" stroke-width="1.5"/>
<line x1="88.55" x2="684.7" y1="333.55" y2="333.55" stroke="#404040" stroke-opacity="0.3" stroke-width="1.5"/>
<line x1="88.55" x2="684.7" y1="241.05" y2="241.05" stroke="#404040" stroke-opacity="0.3" stroke-width="1.5"/>
<line x1="88.55" x2="684.7" y1="148.55" y2="148.55" stroke="#404040" stroke-opacity="0.3" stroke-width="1.5"/>
<line x1="88.55" x2="684.7" y1="56.05" y2="56.05" stroke="#404040" stroke-opacity="0.3" stroke-width="1.5"/>
<path d="M198.37,-313.95 L198.60,-313.95 L198.82,-313.95 L199.05,-313.95 L199.27,-313.95 L199.50,-313.95 L199.73,-313.95 L199.95,-313.95 L200.18,-313.95 L200.40,-313.95 L200.63,-313.95 L200.85,-313.95 L201.08,-313.95 L201.30,-313.95 L201.53,-313.95 L201.75,-313.95 L201.98,-313.95 L202.20,-313.95 L202.43,-313.95 L202.65,-313.95 L202.88,-313.95 L203.10,-313.95 L203.33,-313.95 L203.55,-313.95 L203.78,-313.95 L204.00,-313.95 L204.23,-313.95 L204.45,-313.95 L204.68,-313.95 L204.90,-313.95 L205.13,-313.95 L205.35,-313.95 L205.58,-313.95 L205.80,-313.95 L206.03,-313.95 L206.25,-313.95 L206.48,-313.95 L206.70,-313.95 L206.93,-313.95 L207.16,-313.95 L207.38,-313.95 L207.61,-313.95 L207.83,-313.95 L208.06,-313.95 L208.28,-313.95 L208.51,-313.95 L208.73,-313.95 L208.96,-313.95 L209.18,-313.95 L209.41,-313.95 L209.63,-313.95 L209.86,-313.95 L210.08,-313.95 L210.31,-313.95 L210.53,-313.95 L210.76,-313.95 L210.98,-313.95 L211.21,-313.95 L211.43,-313.95 L211.66,-313.95 L211.88,-313.95 L212.11,-313.95 L212.33,-313.95 L212.56,-313.95 L212.78,-313.95 L213.01,-313.95 L213.23,-313.95 L213.46,-313.95 L213.68,-313.95 L213.91,-313.95 L214.13,-313.95 L214.36,-313.95 L214.58,-313.95 L214.81,-313.95 L215.04,-313.95 L215.26,-313.95 L215.49,-313.95 L215.71,-313.95 L215.94,-313.95 L216.16,-313.95 L216.39,-313.95 L216.61,-313.95 L216.84,-313.95 L217.06,-313.95 L217.29,-313.95 L217.51,-313.95 L217.74,-313.95 L217.96,-313.95 L218.19,-313.95 L218.41,-313.95 L218.64,-313.95 L218.86,-313.95 L219.09,-313.95 L219.31,-313.95 L219.54,-313.95 L219.76,-313.95 L219.99,-313.95 L220.21,-313.95 L220.44,-313.95 L220.66,-313.95 L220.89,-313.95 L221.11,-313.95 L221.34,-313.95 L221.56,-313.95 L221.79,-313.95 L222.01,-313.95 L222.24,-313.95 L222.47,-313.95 L222.69,-313.95 L222.92,-313.95 L223.14,-313.95 L223.37,-313.95 L223.59,-313.95 L223.82,-313.95 L224.04,-313.95 L224.27,-313.95 L224.49,-313.95 L224.72,-313.95 L224.94,-313.95 L225.17,-313.95 L225.39,-313.95 L225.62,-313.95 L225.84,-313.95 L226.07,-313.95 L226.29,-313.95 L226.52,-313.95 L226.74,-313.95 L226.97,-313.95 L227.19,-313.95 L227.42,-313.95 L227.64,-313.95 L227.87,-313.95 L228.09,-313.95 L228.32,-313.95 L228.54,-313.95 L228.77,-313.95 L228.99,-313.95 L229.22,-313.95 L229.44,-313.95 L229.67,-313.95 L230.30,-313.95 L230.93,-313.95 L231.56,-313.95 L232.19,-313.95 L232.82,-313.95 L233.46,-299.33 L234.09,-284.87 L234.72,-271.00 L235.35,-257.69 L235.98,-244.92 L236.61,-232.65 L237.24,-220.85 L237.87,-209.50 L238.50,-198.57 L239.13,-188.05 L239.77,-177.90 L240.40,-168.11 L241.03,-158.67 L241.66,-149.55 L242.29,-140.74 L242.92,-132.23 L243.55,-123.99 L244.18,-116.02 L244.81,-108.31 L245.44,-100.84 L246.07,-93.60 L246.71,-86.58 L247.34,-79.78 L247.97,-73.18 L248.60,-66.77 L249.23,-60.55 L249.86,-54.51 L250.49,-48.64 L251.12,-42.93 L251.75,-37.39 L252.38,-31.99 L253.02,-26.74 L253.65,-21.63 L254.28,-16.66 L254.91,-11.81 L255.54,-7.10 L256.17,-2.50 L256.80,1.98 L257.43,6.35 L258.06,10.61 L258.69,14.77 L259.32,18.82 L259.96,22.78 L260.59,26.64 L261.22,30.41 L261.85,34.09 L262.48,37.69 L263.11,41.20 L263.74,44.64 L264.37,47.99 L265.00,51.28 L265.63,54.48 L266.27,57.62 L266.90,60.69 L267.53,63.69 L268.16,66.63 L268.79,69.50 L269.42,72.32 L270.05,75.07 L270.68,77.77 L271.31,80.41 L271.94,82.99 L272.57,85.52 L273.21,88.00 L273.84,90.43 L274.47,92.80 L275.10,95.13 L275.73,97.41 L276.36,99.65 L276.99,101.84 L277.62,103.98 L278.25,106.08 L278.88,108.14 L279.52,110.16 L280.15,112.14 L280.78,114.08 L281.41,115.98 L282.04,117.84 L282.67,119.67 L283.30,121.46 L283.93,123.22 L284.56,124.94 L285.19,126.63 L285.82,128.29 L286.46,129.92 L287.09,131.51 L287.72,133.07 L288.35,134.61 L288.98,136.12 L289.61,137.59 L290.24,139.04 L290.87,140.46 L291.50,141.86 L292.13,143.23 L292.77,144.57 L293.40,145.89 L294.03,147.19 L294.66,148.46 L295.29,149.71 L295.92,150.93 L296.55,152.13 L297.18,153.32 L297.81,154.48 L298.44,155.62 L299.08,156.74 L299.71,157.84 L300.34,158.92 L300.97,159.98 L301.60,161.03 L302.23,162.06 L302.86,163.07 L303.49,164.06 L304.12,165.04 L304.75,166.00 L305.38,166.95 L306.02,167.88 L306.65,168.80 L307.28,169.70 L307.91,170.59 L308.54,171.46 L309.17,172.32 L309.80,173.17 L310.43,174.00 L311.06,174.82 L311.69,175.63 L312.33,176.43 L312.96,177.22 L313.59,177.99 L314.22,178.75 L314.85,179.50 L315.48,180.24 L316.11,180.97 L316.74,181.69 L317.37,182.40 L318.00,183.09 L318.63,183.78 L319.27,184.46 L319.90,185.12 L320.53,185.78 L321.16,186.43 L321.79,187.07 L322.42,187.70 L323.05,188.32 L323.68,188.93 L324.31,189.54 L324.94,190.13 L325.58,190.72 L326.21,191.29 L326.84,191.87 L327.47,192.43 L328.10,192.98 L328.73,193.53 L329.36,194.07 L329.99,194.60 L330.62,195.12 L331.25,195.64 L331.88,196.15 L332.52,196.65 L333.15,197.15 L333.78,197.64 L334.41,198.12 L335.04,198.60 L335.67,199.06 L336.30,199.53 L336.93,199.98 L337.56,200.43 L338.19,200.88 L338.83,201.32 L339.46,201.75 L340.09,202.18 L340.72,202.60 L341.35,203.01 L341.98,203.42 L342.61,203.83 L343.24,204.22 L343.87,204.62 L344.50,205.01 L345.13,205.39 L345.77,205.77 L346.40,206.14 L347.03,206.51 L347.66,206.87 L348.29,207.23 L348.92,207.58 L349.55,207.93 L350.18,208.27 L350.81,208.61 L351.44,208.94 L352.08,209.27 L352.71,209.60 L353.34,209.92 L353.97,210.24 L354.60,210.55 L355.23,210.86 L357.13,211.76 L359.02,212.63 L360.92,213.46 L362.81,214.26 L364.71,215.03 L366.61,215.77 L368.50,216.47 L370.40,217.16 L372.29,217.81 L374.19,218.43 L376.09,219.03 L377.98,219.61 L379.88,220.16 L381.77,220.68 L383.67,221.18 L385.57,221.66 L387.46,222.12 L389.36,222.56 L391.25,222.97 L393.15,223.37 L395.05,223.74 L396.94,224.09 L398.84,224.43 L400.73,224.74 L402.63,225.04 L404.53,225.32 L406.42,225.58 L408.32,225.83 L410.22,226.06 L412.11,226.27 L414.01,226.47 L415.90,226.65 L417.80,226.82 L419.70,226.97 L421.59,227.11 L423.49,227.24 L425.38,227.35 L427.28,227.45 L429.18,227.54 L431.07,227.62 L432.97,227.68 L434.86,227.73 L436.76,227.78 L438.66,227.81 L440.55,227.83 L442.45,227.84 L444.34,227.85 L446.24,227.84 L448.14,227.82 L450.03,227.80 L451.93,227.76 L453.82,227.72 L455.72,227.67 L457.62,227.61 L459.51,227.55 L461.41,227.48 L463.30,227.40 L465.20,227.31 L467.10,227.22 L468.99,227.12 L470.89,227.01 L472.78,226.90 L474.68,226.78 L476.58,226.66 L478.47,226.53 L480.37,226.40 L482.26,226.26 L484.16,226.11 L486.06,225.96 L487.95,225.80 L489.85,225.64 L491.74,225.48 L493.64,225.31 L495.54,225.14 L497.43,224.96 L499.33,224.77 L501.23,224.59 L503.12,224.39 L505.02,224.20 L506.91,224.00 L508.81,223.80 L510.71,223.59 L512.60,223.38 L514.50,223.16 L516.39,222.94 L518.29,222.72 L520.19,222.49 L522.08,222.26 L523.98,222.03 L525.87,221.79 L527.77,221.55 L529.67,221.31 L531.56,221.06 L533.46,220.81 L535.35,220.56 L537.25,220.30 L539.15,220.04 L541.04,219.78 L542.94,219.52 L544.83,219.25 L546.73,218.97 L548.63,218.70 L550.52,218.42 L552.42,218.14 L554.31,217.86 L556.21,217.57 L558.11,217.28 L560.00,216.99 L561.90,216.69 L563.79,216.39 L565.69,216.09 L567.59,215.79 L569.48,215.48 L571.38,215.17 L573.27,214.86 L575.17,214.55 L577.07,214.23 L578.96,213.91 L580.86,213.59 L582.75,213.27 L584.65,212.94 L586.55,212.61 L588.44,212.28 L590.34,211.95 L592.24,211.61 L594.13,211.28 L596.03,210.94 L597.92,210.60 L599.82,210.25 L601.72,209.91 L603.61,209.56 L605.51,209.21 L607.40,208.86 L609.30,208.50 L611.20,208.15 L613.09,207.79 L614.99,207.43 L616.88,207.07 L618.78,206.71 L620.68,206.34 L622.57,205.98 L624.47,205.61 L626.36,205.24 L628.26,204.87 L630.16,204.50 L632.05,204.12 L633.95,203.75 L635.84,203.37 L637.74,202.99" fill="none" stroke="#a7a7a7" stroke-width="4.2" stroke-linejoin="round" stroke-linecap="square"/>
<line x1="197.95" x2="197.95" y1="426.05" y2="0.7" stroke="#000" stroke-width="2" stroke-dasharray="7.2 3.25"/>
</g>
<circle cx="261.20" cy="353.90" r="8.8" fill="#ffff00" stroke="#737373" stroke-width="1.8"/>
<circle cx="447.3" cy="228.0" r="8.0" fill="#ff0000" stroke="#737373" stroke-width="1.8"/>
<line x1="135.60" x2="135.60" y1="426.05" y2="419.35" stroke="#000" stroke-width="1.75"/>
<line x1="292.35" x2="292.35" y1="426.05" y2="419.35" stroke="#000" stroke-width="1.75"/>
<line x1="449.45" x2="449.45" y1="426.05" y2="419.35" stroke="#000" stroke-width="1.75"/>
<line x1="606.05" x2="606.05" y1="426.05" y2="419.35" stroke="#000" stroke-width="1.75"/>
<line x1="88.55" x2="95.25" y1="426.05" y2="426.05" stroke="#000" stroke-width="1.75"/>
<line x1="88.55" x2="95.25" y1="333.55" y2="333.55" stroke="#000" stroke-width="1.75"/>
<line x1="88.55" x2="95.25" y1="241.05" y2="241.05" stroke="#000" stroke-width="1.75"/>
<line x1="88.55" x2="95.25" y1="148.55" y2="148.55" stroke="#000" stroke-width="1.75"/>
<line x1="88.55" x2="95.25" y1="56.05" y2="56.05" stroke="#000" stroke-width="1.75"/>
<rect x="88.55" y="0.7" width="596.15" height="425.35" fill="none" stroke="#000" stroke-width="1.6"/>
<text class="tk" transform="translate(136.0,458.8) scale(1,1.025)" text-anchor="middle" style="font-size:35.2px">0.0</text>
<text class="tk" transform="translate(292.8,458.8) scale(1,1.025)" text-anchor="middle" style="font-size:35.2px">0.5</text>
<text class="tk" transform="translate(449.8,458.8) scale(1,1.025)" text-anchor="middle" style="font-size:35.2px">1.0</text>
<text class="tk" transform="translate(606.4,458.8) scale(1,1.025)" text-anchor="middle" style="font-size:35.2px">1.5</text>
<text class="tk" transform="translate(81.4,439.6) scale(1,1.04)" text-anchor="end">0</text>
<text class="tk" transform="translate(81.4,347.1) scale(1,1.04)" text-anchor="end">5</text>
<text class="tk" transform="translate(81.4,254.6) scale(1,1.04)" text-anchor="end">10</text>
<text class="tk" transform="translate(81.4,162.1) scale(1,1.04)" text-anchor="end">15</text>
<text class="tk" transform="translate(81.4,69.6) scale(1,1.04)" text-anchor="end">20</text>
<text class="tk" x="340" y="499.6" font-style="italic">V</text>
<text class="tk" transform="translate(363.4,504.9) scale(1.13,1)" style="font-size:24.2px">T</text>
<text class="tk" x="389.7" y="499.6">(L)</text>
<text class="tk" transform="translate(26.2,298.9) rotate(-90) scale(1,1.0)" textLength="172.5" lengthAdjust="spacing" style="font-size:35px">MP (J/min)</text>
<rect x="488.4" y="25.2" width="27.6" height="24.9" fill="#008000" fill-opacity="0.3" stroke="#808080" stroke-opacity="0.4" stroke-width="1.5"/>
<text class="lg" transform="translate(538.6,47.4) scale(1.055,1)">MP</text>
<text class="lg sb" x="578.4" y="51.4">iPEEP</text>
<rect x="488.4" y="66.4" width="27.6" height="24.9" fill="#0000ff" fill-opacity="0.3" stroke="#808080" stroke-opacity="0.4" stroke-width="1.5"/>
<text class="lg" transform="translate(538.6,88.6) scale(1.055,1)">MP</text>
<text class="lg sb" x="578.4" y="92.6">resistive</text>
<rect x="488.4" y="107.6" width="27.6" height="24.9" fill="#ffa500" fill-opacity="0.3" stroke="#808080" stroke-opacity="0.4" stroke-width="1.5"/>
<text class="lg" transform="translate(538.6,129.8) scale(1.055,1)">MP</text>
<text class="lg sb" x="578.4" y="133.8">elastic</text>
</svg></body></html>
